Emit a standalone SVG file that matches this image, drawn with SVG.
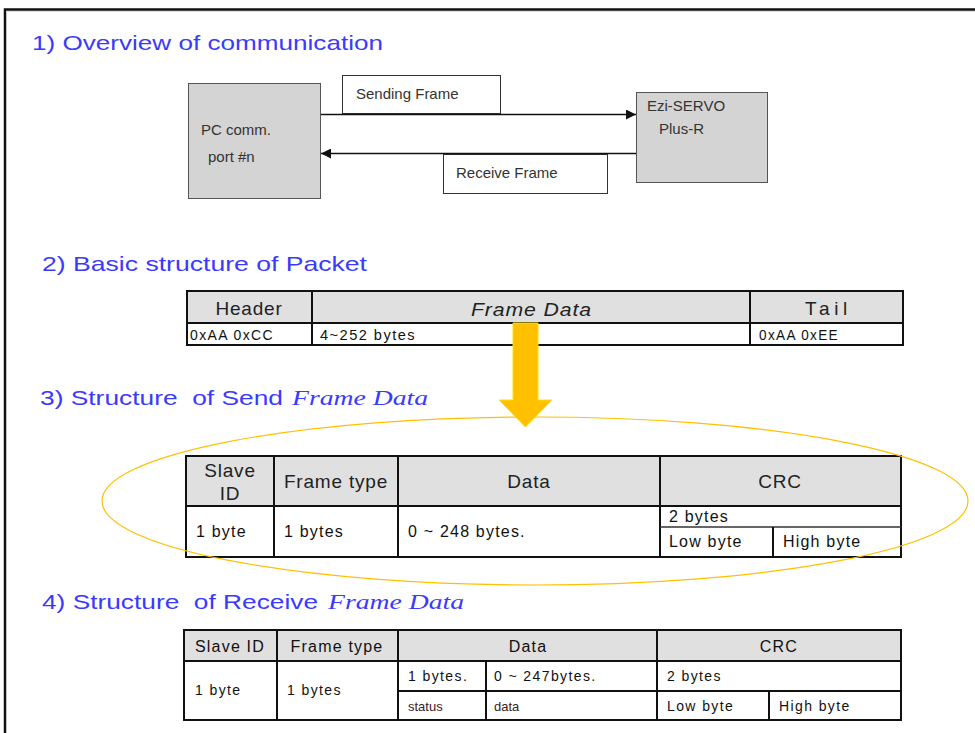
<svg xmlns="http://www.w3.org/2000/svg" width="975" height="733" viewBox="0 0 975 733">
<defs>
<style>
.ttl{font-family:"Liberation Sans","Noto Sans CJK KR",sans-serif;font-size:21px;fill:#3a3aff;white-space:pre;}
.ttli{font-family:"Liberation Serif","Noto Sans CJK KR",serif;font-size:21px;font-style:italic;fill:#3a3aff;}
.lbl{font-family:"Liberation Sans",sans-serif;font-size:15px;fill:#333;}
.hd{font-family:"Liberation Sans","Noto Sans CJK KR",sans-serif;font-size:19px;fill:#222;letter-spacing:0.8px;}
.sm{font-family:"Liberation Sans","Noto Sans CJK KR",sans-serif;font-size:14px;fill:#111;letter-spacing:1.4px;}
.md{font-family:"Liberation Sans","Noto Sans CJK KR",sans-serif;font-size:16px;fill:#111;letter-spacing:1.2px;}
.tiny{font-family:"Liberation Sans",sans-serif;font-size:13px;fill:#3a2020;}
.gbox{fill:#d4d4d4;stroke:#555;stroke-width:1;}
.wbox{fill:#fff;stroke:#333;stroke-width:1;}
.hfill{fill:#e0e0e0;}
.tl{stroke:#111;stroke-width:2;fill:none;}
.conn{stroke:#111;stroke-width:1.3;fill:none;}
</style>
<marker id="ah" viewBox="0 0 10 10" refX="10" refY="5" markerWidth="10" markerHeight="10" markerUnits="userSpaceOnUse" orient="auto">
<path d="M0,0 L10,5 L0,10 Z" fill="#111"/>
</marker>
</defs>
<rect width="975" height="733" fill="#fff"/>
<!-- outer frame -->
<path d="M5,733 L5,9.5 L975,9.5" stroke="#111" stroke-width="2.5" fill="none"/>
<line x1="6" y1="11.5" x2="975" y2="11.5" stroke="#ddd" stroke-width="1"/>

<!-- section titles -->
<text class="ttl" x="32" y="50" textLength="351" lengthAdjust="spacingAndGlyphs">1) Overview of communication</text>
<text class="ttl" x="42" y="271" textLength="325" lengthAdjust="spacingAndGlyphs">2) Basic structure of Packet</text>
<text class="ttl" x="40" y="405" textLength="243" lengthAdjust="spacingAndGlyphs" xml:space="preserve">3) Structure  of Send</text>
<text class="ttli" x="292" y="405" textLength="136" lengthAdjust="spacingAndGlyphs">Frame Data</text>
<text class="ttl" x="42" y="609" textLength="276" lengthAdjust="spacingAndGlyphs" xml:space="preserve">4) Structure  of Receive</text>
<text class="ttli" x="328" y="609" textLength="136" lengthAdjust="spacingAndGlyphs">Frame Data</text>

<!-- section 1 nodes -->
<g id="pc">
<rect class="gbox" x="188.5" y="83.5" width="132" height="115"/>
<text class="lbl" x="201" y="135">PC comm.</text>
<text class="lbl" x="208" y="162">port #n</text>
</g>
<g id="ezi">
<rect class="gbox" x="636.5" y="92.5" width="131" height="90"/>
<text class="lbl" x="647" y="111">Ezi-SERVO</text>
<text class="lbl" x="659" y="134">Plus-R</text>
</g>
<g id="sending-label">
<rect class="wbox" x="342.5" y="75.5" width="158" height="38"/>
<text class="lbl" x="356" y="99">Sending Frame</text>
</g>
<g id="receive-label">
<rect class="wbox" x="443.5" y="154.5" width="164" height="39"/>
<text class="lbl" x="456" y="178">Receive Frame</text>
</g>
<g id="connectors">
<line class="conn" x1="321" y1="114.5" x2="636" y2="114.5" marker-end="url(#ah)"/>
<line class="conn" x1="636" y1="153.5" x2="321" y2="153.5" marker-end="url(#ah)"/>
</g>

<!-- packet table -->
<g id="packet">
<rect class="hfill" x="187" y="291" width="716" height="32"/>
<rect x="187" y="323" width="716" height="22" fill="#fff"/>
<rect class="tl" x="187" y="291" width="716" height="54"/>
<line class="tl" x1="187" y1="323" x2="903" y2="323"/>
<line class="tl" x1="312" y1="291" x2="312" y2="345"/>
<line class="tl" x1="750" y1="291" x2="750" y2="345"/>
<text class="hd" x="249" y="315" text-anchor="middle">Header</text>
<text class="hd" x="471" y="316" font-style="italic" font-size="22" textLength="121" lengthAdjust="spacingAndGlyphs">Frame Data</text>
<text class="hd" x="805" y="315" textLength="43" lengthAdjust="spacing">Tail</text>
<text class="sm" x="190" y="340" textLength="84" lengthAdjust="spacingAndGlyphs">0xAA 0xCC</text>
<text class="sm" x="320" y="340" textLength="96" lengthAdjust="spacingAndGlyphs">4~252 bytes</text>
<text class="sm" x="759" y="340" textLength="80" lengthAdjust="spacingAndGlyphs">0xAA 0xEE</text>
</g>

<!-- yellow arrow -->
<g id="down-arrow">
<path d="M513,323 L538,323 L538,400 L552,400 L525.5,427 L499,400 L513,400 Z" fill="#ffc000" stroke="#ffe000" stroke-width="1"/>
</g>

<!-- send table -->
<g id="send">
<rect class="hfill" x="186" y="456" width="715" height="50"/>
<rect x="186" y="506" width="715" height="51" fill="#fff"/>
<rect class="tl" x="186" y="456" width="715" height="101"/>
<line class="tl" x1="186" y1="506" x2="901" y2="506"/>
<line class="tl" x1="274" y1="456" x2="274" y2="557"/>
<line class="tl" x1="398" y1="456" x2="398" y2="557"/>
<line class="tl" x1="660" y1="456" x2="660" y2="557"/>
<line x1="660" y1="527" x2="901" y2="527" stroke="#333" stroke-width="1.5"/>
<line class="tl" x1="773" y1="527" x2="773" y2="557"/>
<text class="hd" x="230" y="477" text-anchor="middle">Slave</text>
<text class="hd" x="230" y="500" text-anchor="middle">ID</text>
<text class="hd" x="336" y="488" text-anchor="middle">Frame type</text>
<text class="hd" x="529" y="488" text-anchor="middle">Data</text>
<text class="hd" x="780" y="488" text-anchor="middle">CRC</text>
<text class="md" x="196" y="537">1 byte</text>
<text class="md" x="284" y="537">1 bytes</text>
<text class="md" x="408" y="537">0 ~ 248 bytes.</text>
<text class="md" x="669" y="522">2 bytes</text>
<text class="md" x="669" y="547">Low byte</text>
<text class="md" x="783" y="547">High byte</text>
</g>

<!-- ellipse -->
<ellipse id="highlight" cx="535" cy="501" rx="433" ry="84" fill="none" stroke="#ffc000" stroke-width="1.2"/>

<!-- receive table -->
<g id="receive">
<rect class="hfill" x="184" y="630" width="717" height="31"/>
<rect x="184" y="661" width="717" height="59" fill="#fff"/>
<rect class="tl" x="184" y="630" width="717" height="90"/>
<line class="tl" x1="184" y1="661" x2="901" y2="661"/>
<line class="tl" x1="398" y1="691" x2="901" y2="691"/>
<line class="tl" x1="277" y1="630" x2="277" y2="720"/>
<line class="tl" x1="398" y1="630" x2="398" y2="720"/>
<line class="tl" x1="486" y1="661" x2="486" y2="720"/>
<line class="tl" x1="657" y1="630" x2="657" y2="720"/>
<line class="tl" x1="769" y1="691" x2="769" y2="720"/>
<text class="md" x="230" y="652" text-anchor="middle">Slave ID</text>
<text class="md" x="337" y="652" text-anchor="middle">Frame type</text>
<text class="md" x="528" y="652" text-anchor="middle">Data</text>
<text class="md" x="779" y="652" text-anchor="middle">CRC</text>
<text class="sm" x="195" y="695">1 byte</text>
<text class="sm" x="287" y="695">1 bytes</text>
<text class="sm" x="408" y="681">1 bytes.</text>
<text class="sm" x="494" y="681">0 ~ 247bytes.</text>
<text class="sm" x="667" y="681">2 bytes</text>
<text class="tiny" x="408" y="711">status</text>
<text class="tiny" x="494" y="711" fill="#302050">data</text>
<text class="sm" x="667" y="711">Low byte</text>
<text class="sm" x="779" y="711">High byte</text>
</g>
</svg>
